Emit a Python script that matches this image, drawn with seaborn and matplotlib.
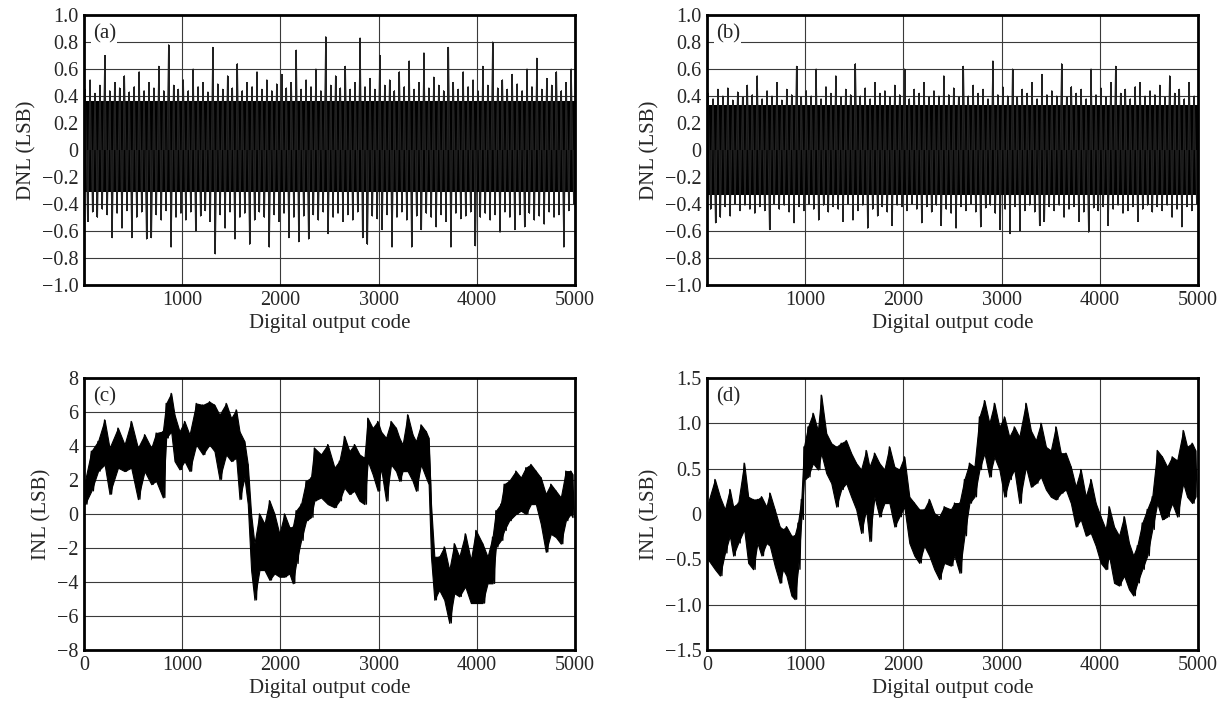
import numpy as np
import matplotlib
matplotlib.use("Agg")
import matplotlib.pyplot as plt
import seaborn as sns

# DNL envelopes, one hi/lo pair per 50-code bin
dnl_code = np.arange(0, 5000, 50)

dnl_a_hi = [0.45, 0.52, 0.42, 0.48, 0.70, 0.44, 0.50, 0.46, 0.55, 0.43,
            0.47, 0.58, 0.44, 0.50, 0.46, 0.62, 0.44, 0.78, 0.48, 0.45,
            0.52, 0.44, 0.60, 0.47, 0.50, 0.43, 0.76, 0.49, 0.45, 0.55,
            0.46, 0.64, 0.44, 0.50, 0.47, 0.58, 0.45, 0.52, 0.44, 0.49,
            0.56, 0.46, 0.50, 0.74, 0.45, 0.52, 0.47, 0.60, 0.44, 0.84,
            0.48, 0.55, 0.46, 0.62, 0.45, 0.50, 0.83, 0.47, 0.53, 0.45,
            0.70, 0.48, 0.52, 0.44, 0.58, 0.47, 0.66, 0.45, 0.50, 0.72,
            0.46, 0.54, 0.48, 0.44, 0.76, 0.50, 0.45, 0.58, 0.47, 0.52,
            0.44, 0.62, 0.48, 0.80, 0.46, 0.52, 0.45, 0.56, 0.49, 0.44,
            0.60, 0.47, 0.68, 0.45, 0.53, 0.48, 0.58, 0.44, 0.50, 0.60]
dnl_a_lo = [-0.53, -0.46, -0.50, -0.44, -0.48, -0.65, -0.47, -0.58, -0.45, -0.65,
            -0.50, -0.46, -0.66, -0.65, -0.48, -0.52, -0.45, -0.72, -0.50, -0.47,
            -0.52, -0.46, -0.60, -0.49, -0.45, -0.53, -0.77, -0.48, -0.58, -0.46,
            -0.66, -0.50, -0.47, -0.70, -0.52, -0.46, -0.50, -0.72, -0.48, -0.53,
            -0.47, -0.65, -0.50, -0.68, -0.49, -0.66, -0.48, -0.52, -0.46, -0.62,
            -0.50, -0.47, -0.53, -0.48, -0.52, -0.46, -0.65, -0.70, -0.49, -0.51,
            -0.59, -0.48, -0.72, -0.50, -0.46, -0.52, -0.72, -0.49, -0.59, -0.47,
            -0.50, -0.57, -0.48, -0.53, -0.72, -0.47, -0.51, -0.49, -0.46, -0.71,
            -0.50, -0.47, -0.52, -0.48, -0.61, -0.46, -0.50, -0.59, -0.48, -0.57,
            -0.47, -0.52, -0.49, -0.55, -0.46, -0.50, -0.48, -0.72, -0.45, -0.40]
dnl_a_core = (0.36, -0.31)

dnl_b_hi = [0.42, 0.38, 0.45, 0.40, 0.46, 0.37, 0.43, 0.39, 0.48, 0.41,
            0.55, 0.38, 0.44, 0.40, 0.50, 0.37, 0.45, 0.41, 0.62, 0.39,
            0.44, 0.40, 0.60, 0.38, 0.47, 0.42, 0.55, 0.39, 0.45, 0.41,
            0.64, 0.40, 0.46, 0.38, 0.50, 0.42, 0.44, 0.39, 0.48, 0.41,
            0.60, 0.38, 0.45, 0.42, 0.50, 0.39, 0.44, 0.40, 0.55, 0.41,
            0.46, 0.39, 0.62, 0.40, 0.48, 0.42, 0.45, 0.38, 0.66, 0.41,
            0.47, 0.40, 0.60, 0.39, 0.45, 0.42, 0.50, 0.38, 0.56, 0.41,
            0.44, 0.40, 0.64, 0.39, 0.47, 0.42, 0.45, 0.38, 0.60, 0.41,
            0.46, 0.39, 0.50, 0.62, 0.42, 0.45, 0.38, 0.47, 0.50, 0.40,
            0.44, 0.41, 0.48, 0.39, 0.55, 0.42, 0.45, 0.38, 0.50, 0.40]
dnl_b_lo = [-0.44, -0.54, -0.50, -0.42, -0.49, -0.40, -0.45, -0.41, -0.44, -0.47,
            -0.42, -0.45, -0.59, -0.40, -0.44, -0.41, -0.46, -0.54, -0.42, -0.45,
            -0.40, -0.44, -0.52, -0.41, -0.46, -0.42, -0.44, -0.53, -0.40, -0.52,
            -0.45, -0.41, -0.58, -0.44, -0.49, -0.42, -0.46, -0.56, -0.41, -0.42,
            -0.45, -0.40, -0.44, -0.54, -0.42, -0.46, -0.41, -0.56, -0.44, -0.47,
            -0.58, -0.42, -0.45, -0.40, -0.46, -0.57, -0.43, -0.41, -0.47, -0.59,
            -0.44, -0.62, -0.42, -0.60, -0.45, -0.41, -0.46, -0.56, -0.53, -0.42,
            -0.45, -0.41, -0.50, -0.44, -0.42, -0.53, -0.46, -0.61, -0.43, -0.45,
            -0.42, -0.56, -0.44, -0.41, -0.47, -0.45, -0.42, -0.53, -0.44, -0.41,
            -0.46, -0.42, -0.45, -0.41, -0.50, -0.44, -0.57, -0.42, -0.45, -0.40]
dnl_b_core = (0.33, -0.33)

# INL envelopes (code, upper, lower)
inl_c_code = [10, 75, 143, 210, 260, 346, 413, 481, 549, 617, 685, 735, 803, 837, 888,
              922, 973, 1024, 1075, 1143, 1210, 1278, 1329, 1380, 1448, 1499, 1550, 1584,
              1634, 1668, 1702, 1736, 1787, 1838, 1889, 1940, 1990, 2041, 2092, 2126, 2160,
              2211, 2262, 2312, 2346, 2414, 2482, 2551, 2601, 2652, 2703, 2754, 2805, 2856,
              2890, 2940, 2991, 3025, 3076, 3127, 3178, 3212, 3245, 3296, 3347, 3381, 3432,
              3483, 3510, 3534, 3568, 3618, 3669, 3720, 3771, 3822, 3883, 3940, 3991, 4059,
              4110, 4161, 4195, 4245, 4279, 4330, 4398, 4449, 4500, 4551, 4602, 4652, 4703,
              4754, 4805, 4856, 4907, 4957, 4975]
inl_c_hi = [1.94, 3.69, 4.27, 5.53, 3.88, 5.05, 4.08, 5.44, 3.88, 4.66, 3.88, 4.76, 4.85, 6.50, 7.09,
            5.83, 4.85, 5.44, 4.66, 6.50, 6.41, 6.60, 6.41, 5.83, 6.50, 5.63, 6.12, 4.85,
            4.27, 2.91, 0.00, -1.75, 0.00, -0.58, 0.78, 0.00, -1.17, 0.00, -0.78, -0.78, 0.19,
            0.58, 1.94, 2.14, 3.88, 3.50, 4.08, 2.72, 3.11, 4.56, 3.69, 4.08, 3.50, 3.30,
            5.63, 5.05, 5.44, 4.85, 4.47, 5.44, 5.05, 4.47, 4.08, 5.83, 4.66, 4.27, 5.24,
            4.85, 4.47, 0.58, -2.52, -2.52, -1.94, -3.30, -1.75, -2.52, -1.17, -2.72, -0.97, -1.75,
            -2.52, -1.36, 0.19, 0.58, 1.75, 1.94, 2.52, 2.14, 2.72, 2.91, 2.52, 2.14, 1.17,
            1.75, 1.36, 0.97, 2.52, 2.52, 2.33]
inl_c_lo = [0.58, 1.36, 2.52, 2.91, 1.17, 2.72, 2.52, 2.72, 0.87, 2.52, 1.75, 1.94, 0.97, 4.47, 4.85,
            3.11, 2.62, 3.11, 2.52, 4.08, 3.50, 4.08, 3.69, 2.04, 3.50, 3.11, 3.30, 0.87,
            2.14, 0.58, -3.30, -5.05, -3.30, -3.30, -3.88, -3.50, -3.69, -3.69, -3.50, -4.08, -2.91,
            -1.55, -0.39, -0.19, 0.78, 0.97, 0.58, 0.39, 0.78, 1.55, 1.17, 1.36, 0.78, 0.58,
            3.11, 2.33, 1.36, 2.72, 0.78, 2.91, 2.52, 1.94, 2.52, 2.52, 1.94, 1.36, 2.91,
            2.14, 1.75, -2.52, -5.05, -4.47, -5.05, -6.41, -4.66, -4.85, -4.27, -5.24, -5.24, -5.24,
            -4.08, -4.08, -1.94, -1.55, -0.97, -0.39, 0.00, 0.19, 0.00, 0.58, 0.58, -0.58, -2.23,
            -1.17, -1.36, -1.75, -0.39, 0.00, -0.19]

inl_d_code = [10, 81, 132, 183, 233, 267, 318, 379, 420, 470, 514, 555, 606, 640, 690,
              741, 775, 809, 860, 893, 927, 961, 988, 1029, 1080, 1130, 1164, 1215, 1266,
              1317, 1367, 1418, 1469, 1520, 1570, 1621, 1655, 1706, 1756, 1807, 1858, 1909,
              1959, 2010, 2061, 2112, 2162, 2213, 2264, 2315, 2365, 2416, 2484, 2521, 2572,
              2622, 2673, 2724, 2775, 2826, 2876, 2927, 2978, 3029, 3079, 3130, 3181, 3248,
              3299, 3350, 3401, 3452, 3502, 3553, 3604, 3655, 3706, 3756, 3807, 3858, 3909,
              3959, 4010, 4061, 4095, 4146, 4197, 4248, 4298, 4342, 4383, 4433, 4484, 4535,
              4586, 4636, 4687, 4738, 4789, 4850, 4890, 4941, 4975]
inl_d_hi = [0.12, 0.38, 0.19, 0.05, 0.27, 0.08, 0.12, 0.56, 0.19, 0.16, 0.16, 0.19, 0.08, 0.23, 0.05,
            -0.14, -0.17, -0.14, -0.24, -0.24, -0.10, 0.16, 0.74, 0.96, 1.11, 0.92, 1.31, 0.89, 0.78,
            0.74, 0.78, 0.81, 0.67, 0.56, 0.49, 0.70, 0.52, 0.67, 0.56, 0.49, 0.74, 0.52,
            0.49, 0.63, 0.19, 0.12, 0.05, 0.05, 0.16, 0.01, -0.03, 0.08, 0.05, 0.12, 0.12,
            0.38, 0.56, 0.52, 1.07, 1.25, 1.00, 1.22, 0.96, 1.07, 0.85, 0.96, 0.85, 1.22,
            0.92, 0.81, 1.00, 0.74, 0.70, 0.96, 0.67, 0.67, 0.52, 0.30, 0.49, 0.19, 0.38,
            0.12, -0.03, -0.17, 0.08, -0.14, -0.24, -0.03, -0.32, -0.46, -0.35, -0.10, 0.05, 0.19,
            0.70, 0.63, 0.52, 0.63, 0.59, 0.92, 0.74, 0.78, 0.70]
inl_d_lo = [-0.50, -0.61, -0.68, -0.43, -0.24, -0.46, -0.32, -0.17, -0.54, -0.61, -0.32, -0.46, -0.32, -0.35, -0.57,
            -0.76, -0.61, -0.68, -0.90, -0.94, -0.61, -0.06, 0.38, 0.41, 0.56, 0.49, 0.67, 0.45, 0.34,
            0.08, 0.27, 0.34, 0.19, 0.05, -0.21, 0.05, -0.30, 0.19, -0.03, 0.12, 0.12, -0.14,
            -0.03, 0.08, -0.32, -0.46, -0.54, -0.35, -0.46, -0.61, -0.72, -0.54, -0.57, -0.46, -0.65,
            -0.24, 0.12, 0.19, 0.49, 0.67, 0.41, 0.63, 0.49, 0.19, 0.38, 0.49, 0.12, 0.52,
            0.30, 0.34, 0.41, 0.27, 0.19, 0.16, 0.23, 0.27, 0.12, -0.14, -0.06, -0.24, -0.21,
            -0.35, -0.54, -0.61, -0.46, -0.76, -0.79, -0.68, -0.83, -0.90, -0.76, -0.61, -0.46, -0.17,
            0.12, -0.06, -0.03, 0.12, -0.03, 0.34, 0.19, 0.12, 0.19]

dnl_ticks = [-1.0, -0.8, -0.6, -0.4, -0.2, 0, 0.2, 0.4, 0.6, 0.8, 1.0]
inl_c_ticks = [-8, -6, -4, -2, 0, 2, 4, 6, 8]
inl_d_ticks = [-1.5, -1.0, -0.5, 0, 0.5, 1.0, 1.5]
code_ticks = [0, 1000, 2000, 3000, 4000, 5000]

sns.set_style("white")
plt.rcParams['font.family'] = ['Liberation Serif', 'DejaVu Serif']


def fmt(v):
    if v == 0:
        return "0"
    s = ("%g" % abs(v)) if float(v).is_integer() and abs(v) >= 2 else "%.1f" % abs(v)
    return ("\u2212" + s) if v < 0 else s


def style_axis(ax, yticks, ylabel, tag, show_zero):
    ax.set_xlim(0, 5000)
    ax.set_ylim(yticks[0], yticks[-1])
    ax.set_yticks(yticks)
    ax.set_yticklabels([fmt(v) for v in yticks])
    ax.set_xticks(code_ticks)
    ax.set_xticklabels([("" if (c == 0 and not show_zero) else str(c)) for c in code_ticks])
    ax.grid(True, color="#3a3a3a", linewidth=0.8)
    ax.set_axisbelow(True)
    ax.tick_params(length=0, labelsize=14.5, pad=4)
    for sp in ax.spines.values():
        sp.set_linewidth(2.0)
        sp.set_color("black")
        sp.set_zorder(5)
    ax.set_xlabel("Digital output code", fontsize=15, labelpad=3)
    ax.set_ylabel(ylabel, fontsize=15, labelpad=4)
    ax.text(0.018, 0.965, tag, transform=ax.transAxes, ha="left", va="top", fontsize=15,
            zorder=6, bbox=dict(facecolor="white", edgecolor="none", pad=1))


def draw_dnl(ax, code, hi, lo, core):
    code = np.asarray(code, dtype=float)
    # dense solid core of the noise band
    ax.fill_between([0, 5000], [core[1], core[1]], [core[0], core[0]], color="black", lw=0)
    # individual spikes: up at each bin start, down half a bin later
    ax.vlines(code + 12, 0, hi, color="#1a1a1a", linewidth=1.4)
    ax.vlines(code + 37, lo, 0, color="#1a1a1a", linewidth=1.4)
    x = np.column_stack([code + 12, code + 37]).ravel()
    y = np.column_stack([hi, lo]).ravel()
    sns.lineplot(x=x, y=y, ax=ax, color="#222222", linewidth=0.8, estimator=None, sort=False)


def draw_inl(ax, code, hi, lo):
    ax.fill_between(code, lo, hi, color="black", lw=0.8, edgecolor="black")
    x = np.column_stack([code, np.asarray(code) + 20]).ravel()
    y = np.column_stack([hi, lo]).ravel()
    sns.lineplot(x=x, y=y, ax=ax, color="black", linewidth=1.0, estimator=None, sort=False)


fig = plt.figure(figsize=(12.28, 7.13), dpi=100)
ax_a = fig.add_axes([0.0684, 0.6003, 0.3998, 0.3787])
ax_b = fig.add_axes([0.5757, 0.6003, 0.3998, 0.3787])
ax_c = fig.add_axes([0.0684, 0.0884, 0.3998, 0.3815])
ax_d = fig.add_axes([0.5757, 0.0884, 0.3998, 0.3815])

draw_dnl(ax_a, dnl_code, dnl_a_hi, dnl_a_lo, dnl_a_core)
draw_dnl(ax_b, dnl_code, dnl_b_hi, dnl_b_lo, dnl_b_core)
draw_inl(ax_c, inl_c_code, inl_c_hi, inl_c_lo)
draw_inl(ax_d, inl_d_code, inl_d_hi, inl_d_lo)

style_axis(ax_a, dnl_ticks, "DNL (LSB)", "(a)", False)
style_axis(ax_b, dnl_ticks, "DNL (LSB)", "(b)", False)
style_axis(ax_c, inl_c_ticks, "INL (LSB)", "(c)", True)
style_axis(ax_d, inl_d_ticks, "INL (LSB)", "(d)", True)

fig.savefig("out.png", dpi=100)
